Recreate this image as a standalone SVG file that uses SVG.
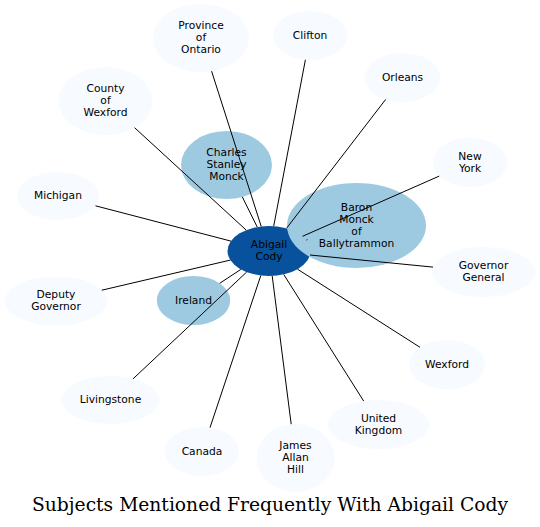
<svg xmlns="http://www.w3.org/2000/svg" width="540" height="527" viewBox="0 0 540 527">
<style>
.bg{fill:#ffffff}
.light{fill:#f7fbff;stroke:none}
.mid{fill:#9ecae1;stroke:none}
.dark{fill:#08519c;stroke:none}
text{font-family:"DejaVu Sans","Noto Sans",sans-serif;font-size:10.7px;fill:#000;text-anchor:middle}
.title{font-family:"DejaVu Serif","Liberation Serif",serif;font-size:18.7px}
#edges line{stroke:#000;stroke-width:1;fill:none}
</style>
<rect class="bg" x="0" y="0" width="540" height="527"/>
<g id="nodes">
<g id="node-abigail-cody"><ellipse class="dark" cx="269" cy="251" rx="41.5" ry="25"/><text x="269" y="248">Abigail</text><text x="269" y="260">Cody</text></g>
<g id="node-baron-monck"><ellipse class="mid" cx="356.5" cy="225.5" rx="69.5" ry="42.5"/><text x="356.5" y="210.5">Baron</text><text x="356.5" y="222.5">Monck</text><text x="356.5" y="234.5">of</text><text x="356.5" y="246.5">Ballytrammon</text></g>
<g id="node-charles-stanley-monck"><ellipse class="mid" cx="226.5" cy="165" rx="45.5" ry="34"/><text x="226.5" y="156">Charles</text><text x="226.5" y="168">Stanley</text><text x="226.5" y="180">Monck</text></g>
<g id="node-ireland"><ellipse class="mid" cx="193.5" cy="300.5" rx="36.7" ry="24.5"/><text x="193.5" y="303.5">Ireland</text></g>
<g id="node-province-of-ontario"><ellipse class="light" cx="201" cy="38" rx="48" ry="34"/><text x="201" y="29">Province</text><text x="201" y="41">of</text><text x="201" y="53">Ontario</text></g>
<g id="node-clifton"><ellipse class="light" cx="310" cy="35.5" rx="37" ry="24.5"/><text x="310" y="38.5">Clifton</text></g>
<g id="node-orleans"><ellipse class="light" cx="402.5" cy="77.5" rx="37.5" ry="24.5"/><text x="402.5" y="80.5">Orleans</text></g>
<g id="node-county-of-wexford"><ellipse class="light" cx="105.5" cy="101" rx="47" ry="34"/><text x="105.5" y="92">County</text><text x="105.5" y="104">of</text><text x="105.5" y="116">Wexford</text></g>
<g id="node-new-york"><ellipse class="light" cx="470" cy="162.5" rx="37" ry="24.5"/><text x="470" y="159.5">New</text><text x="470" y="171.5">York</text></g>
<g id="node-michigan"><ellipse class="light" cx="58" cy="196" rx="41" ry="24"/><text x="58" y="199">Michigan</text></g>
<g id="node-governor-general"><ellipse class="light" cx="483.5" cy="272" rx="51.5" ry="25"/><text x="483.5" y="269">Governor</text><text x="483.5" y="281">General</text></g>
<g id="node-deputy-governor"><ellipse class="light" cx="56" cy="301" rx="51" ry="24.5"/><text x="56" y="298">Deputy</text><text x="56" y="310">Governor</text></g>
<g id="node-wexford"><ellipse class="light" cx="447" cy="364.5" rx="38" ry="24.5"/><text x="447" y="367.5">Wexford</text></g>
<g id="node-livingstone"><ellipse class="light" cx="110.5" cy="400" rx="48.5" ry="24"/><text x="110.5" y="403">Livingstone</text></g>
<g id="node-united-kingdom"><ellipse class="light" cx="378.5" cy="424.5" rx="50.5" ry="24.5"/><text x="378.5" y="421.5">United</text><text x="378.5" y="433.5">Kingdom</text></g>
<g id="node-canada"><ellipse class="light" cx="202" cy="451.5" rx="37" ry="24.5"/><text x="202" y="454.5">Canada</text></g>
<g id="node-james-allan-hill"><ellipse class="light" cx="295.5" cy="458" rx="39" ry="34"/><text x="295.5" y="449">James</text><text x="295.5" y="461">Allan</text><text x="295.5" y="473">Hill</text></g>
</g>
<g id="edges">
<line x1="261.2" y1="226.4" x2="211.6" y2="71.2"/>
<line x1="273.7" y1="226.2" x2="305.4" y2="59.8"/>
<line x1="286.5" y1="228.3" x2="385.7" y2="99.4"/>
<line x1="246.2" y1="230.1" x2="134.6" y2="127.7"/>
<line x1="257.2" y1="227.0" x2="242.3" y2="196.9"/>
<line x1="302.5" y1="236.3" x2="439.2" y2="176.1"/>
<line x1="306.4" y1="240.1" x2="307.4" y2="239.6"/>
<line x1="230.9" y1="241.1" x2="95.5" y2="205.8"/>
<line x1="310.0" y1="255.0" x2="433.0" y2="267.1"/>
<line x1="230.3" y1="260.1" x2="101.8" y2="290.2"/>
<line x1="240.9" y1="269.4" x2="219.7" y2="283.3"/>
<line x1="246.6" y1="272.1" x2="133.1" y2="378.8"/>
<line x1="297.5" y1="269.2" x2="420.0" y2="347.3"/>
<line x1="283.7" y1="274.4" x2="363.7" y2="401.1"/>
<line x1="260.8" y1="275.5" x2="210.0" y2="427.6"/>
<line x1="272.2" y1="275.9" x2="291.2" y2="424.2"/>
</g>
<text class="title" x="270" y="511">Subjects Mentioned Frequently With Abigail Cody</text>
</svg>
